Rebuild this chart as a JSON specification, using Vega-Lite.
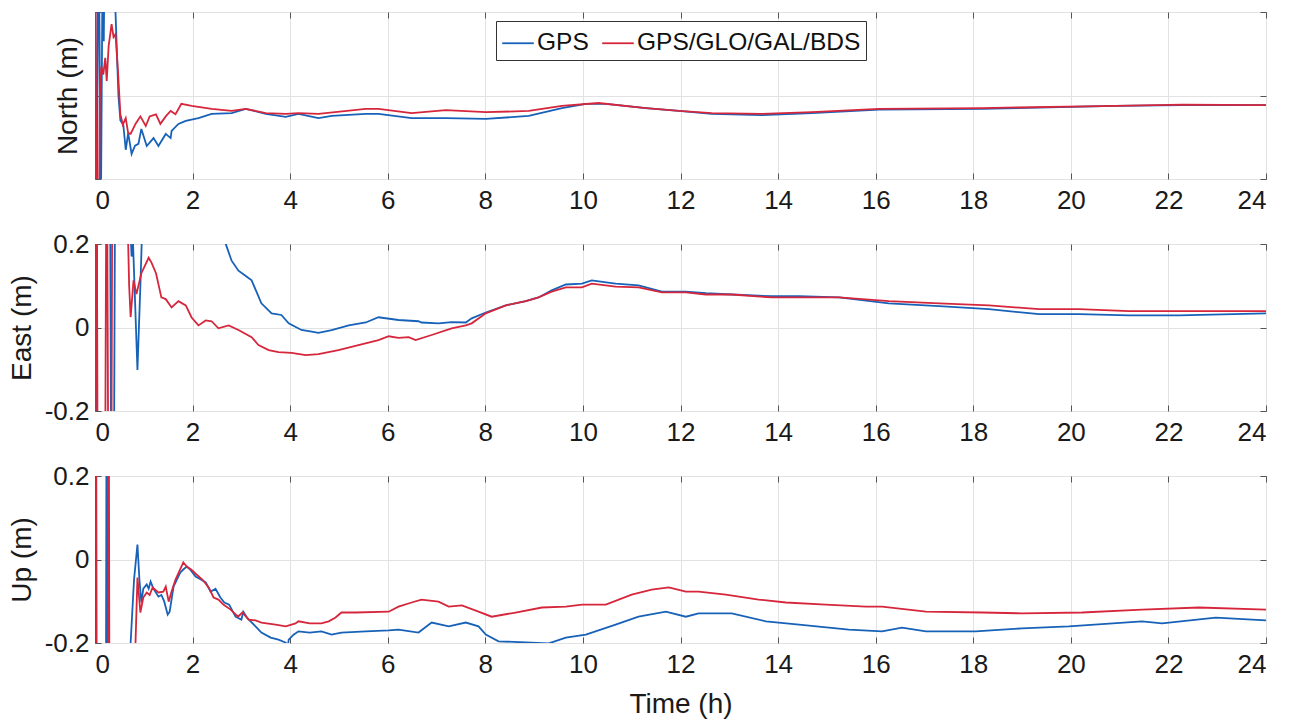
{
  "$schema": "https://vega.github.io/schema/vega-lite/v6.json",
  "padding": {"left": 7, "top": 11, "right": 10, "bottom": 5},
  "background": "white",
  "config": {
    "font": "Liberation Sans",
    "view": {"stroke": "#555555", "strokeWidth": 1},
    "axis": {
      "grid": true, "gridColor": "#e2e2e2", "gridWidth": 1,
      "domain": false, "ticks": true, "tickColor": "#555555", "tickSize": -6, "tickWidth": 1,
      "labelFontSize": 26, "labelColor": "#1a1a1a", "labelPadding": 12,
      "titleFontSize": 28, "titleFontWeight": "normal", "titleColor": "#1a1a1a"
    },
    "axisX": {"labelPadding": 14},
    "line": {"strokeWidth": 1.8, "clip": true}
  },
  "datasets": {
    "north": [
      {"s":"GPS","t":0,"v":0.5},{"s":"GPS","t":0.03,"v":-0.5},{"s":"GPS","t":0.07,"v":0.5},{"s":"GPS","t":0.12,"v":-0.3},{"s":"GPS","t":0.16,"v":0.4},{"s":"GPS","t":0.18,"v":0.13},{"s":"GPS","t":0.21,"v":0.5},{"s":"GPS","t":0.35,"v":0.45},{"s":"GPS","t":0.42,"v":0.2},{"s":"GPS","t":0.48,"v":0.0},{"s":"GPS","t":0.52,"v":-0.06},{"s":"GPS","t":0.58,"v":-0.07},{"s":"GPS","t":0.63,"v":-0.13},{"s":"GPS","t":0.68,"v":-0.09},{"s":"GPS","t":0.75,"v":-0.14},{"s":"GPS","t":0.82,"v":-0.12},{"s":"GPS","t":0.89,"v":-0.116},{"s":"GPS","t":0.95,"v":-0.08},{"s":"GPS","t":1.06,"v":-0.121},{"s":"GPS","t":1.2,"v":-0.102},{"s":"GPS","t":1.3,"v":-0.121},{"s":"GPS","t":1.45,"v":-0.092},{"s":"GPS","t":1.55,"v":-0.102},{"s":"GPS","t":1.57,"v":-0.085},{"s":"GPS","t":1.71,"v":-0.068},{"s":"GPS","t":1.86,"v":-0.061},{"s":"GPS","t":2.12,"v":-0.054},{"s":"GPS","t":2.39,"v":-0.044},{"s":"GPS","t":2.8,"v":-0.042},{"s":"GPS","t":3.09,"v":-0.032},{"s":"GPS","t":3.5,"v":-0.044},{"s":"GPS","t":3.91,"v":-0.051},{"s":"GPS","t":4.17,"v":-0.044},{"s":"GPS","t":4.58,"v":-0.054},{"s":"GPS","t":4.85,"v":-0.049},{"s":"GPS","t":5.55,"v":-0.044},{"s":"GPS","t":5.81,"v":-0.044},{"s":"GPS","t":6.49,"v":-0.054},{"s":"GPS","t":7.19,"v":-0.054},{"s":"GPS","t":8.01,"v":-0.056},{"s":"GPS","t":8.89,"v":-0.049},{"s":"GPS","t":9.57,"v":-0.03},{"s":"GPS","t":10.06,"v":-0.02},{"s":"GPS","t":10.47,"v":-0.02},{"s":"GPS","t":11.29,"v":-0.03},{"s":"GPS","t":11.97,"v":-0.037},{"s":"GPS","t":12.64,"v":-0.044},{"s":"GPS","t":13.67,"v":-0.047},{"s":"GPS","t":14.69,"v":-0.042},{"s":"GPS","t":16.07,"v":-0.034},{"s":"GPS","t":18.18,"v":-0.032},{"s":"GPS","t":20.92,"v":-0.025},{"s":"GPS","t":22.28,"v":-0.023},{"s":"GPS","t":24,"v":-0.023},
      {"s":"GPS/GLO/GAL/BDS","t":0.0,"v":0.5},{"s":"GPS/GLO/GAL/BDS","t":0.04,"v":-0.5},{"s":"GPS/GLO/GAL/BDS","t":0.08,"v":-0.3},{"s":"GPS/GLO/GAL/BDS","t":0.1,"v":0.0},{"s":"GPS/GLO/GAL/BDS","t":0.13,"v":0.07},{"s":"GPS/GLO/GAL/BDS","t":0.17,"v":0.05},{"s":"GPS/GLO/GAL/BDS","t":0.21,"v":0.09},{"s":"GPS/GLO/GAL/BDS","t":0.24,"v":0.035},{"s":"GPS/GLO/GAL/BDS","t":0.28,"v":0.119},{"s":"GPS/GLO/GAL/BDS","t":0.34,"v":0.171},{"s":"GPS/GLO/GAL/BDS","t":0.38,"v":0.14},{"s":"GPS/GLO/GAL/BDS","t":0.42,"v":0.147},{"s":"GPS/GLO/GAL/BDS","t":0.47,"v":0.06},{"s":"GPS/GLO/GAL/BDS","t":0.52,"v":-0.045},{"s":"GPS/GLO/GAL/BDS","t":0.57,"v":-0.07},{"s":"GPS/GLO/GAL/BDS","t":0.63,"v":-0.054},{"s":"GPS/GLO/GAL/BDS","t":0.68,"v":-0.09},{"s":"GPS/GLO/GAL/BDS","t":0.73,"v":-0.092},{"s":"GPS/GLO/GAL/BDS","t":0.83,"v":-0.068},{"s":"GPS/GLO/GAL/BDS","t":0.93,"v":-0.05},{"s":"GPS/GLO/GAL/BDS","t":1.04,"v":-0.073},{"s":"GPS/GLO/GAL/BDS","t":1.12,"v":-0.05},{"s":"GPS/GLO/GAL/BDS","t":1.25,"v":-0.045},{"s":"GPS/GLO/GAL/BDS","t":1.34,"v":-0.068},{"s":"GPS/GLO/GAL/BDS","t":1.45,"v":-0.05},{"s":"GPS/GLO/GAL/BDS","t":1.55,"v":-0.037},{"s":"GPS/GLO/GAL/BDS","t":1.65,"v":-0.045},{"s":"GPS/GLO/GAL/BDS","t":1.77,"v":-0.02},{"s":"GPS/GLO/GAL/BDS","t":1.98,"v":-0.025},{"s":"GPS/GLO/GAL/BDS","t":2.39,"v":-0.032},{"s":"GPS/GLO/GAL/BDS","t":2.8,"v":-0.037},{"s":"GPS/GLO/GAL/BDS","t":3.09,"v":-0.032},{"s":"GPS/GLO/GAL/BDS","t":3.5,"v":-0.042},{"s":"GPS/GLO/GAL/BDS","t":3.91,"v":-0.044},{"s":"GPS/GLO/GAL/BDS","t":4.17,"v":-0.042},{"s":"GPS/GLO/GAL/BDS","t":4.58,"v":-0.044},{"s":"GPS/GLO/GAL/BDS","t":5.55,"v":-0.032},{"s":"GPS/GLO/GAL/BDS","t":5.81,"v":-0.032},{"s":"GPS/GLO/GAL/BDS","t":6.49,"v":-0.042},{"s":"GPS/GLO/GAL/BDS","t":7.19,"v":-0.035},{"s":"GPS/GLO/GAL/BDS","t":8.01,"v":-0.04},{"s":"GPS/GLO/GAL/BDS","t":8.89,"v":-0.037},{"s":"GPS/GLO/GAL/BDS","t":9.57,"v":-0.025},{"s":"GPS/GLO/GAL/BDS","t":10.32,"v":-0.018},{"s":"GPS/GLO/GAL/BDS","t":11.29,"v":-0.03},{"s":"GPS/GLO/GAL/BDS","t":11.97,"v":-0.037},{"s":"GPS/GLO/GAL/BDS","t":12.64,"v":-0.042},{"s":"GPS/GLO/GAL/BDS","t":13.67,"v":-0.044},{"s":"GPS/GLO/GAL/BDS","t":14.69,"v":-0.04},{"s":"GPS/GLO/GAL/BDS","t":16.07,"v":-0.032},{"s":"GPS/GLO/GAL/BDS","t":18.18,"v":-0.03},{"s":"GPS/GLO/GAL/BDS","t":20.92,"v":-0.025},{"s":"GPS/GLO/GAL/BDS","t":22.28,"v":-0.022},{"s":"GPS/GLO/GAL/BDS","t":24,"v":-0.023}
    ],
    "east": [
      {"s":"GPS","t":0.0,"v":0.6},{"s":"GPS","t":0.02,"v":-0.6},{"s":"GPS","t":0.05,"v":0.6},{"s":"GPS","t":0.3,"v":0.6},{"s":"GPS","t":0.34,"v":-0.6},{"s":"GPS","t":0.38,"v":-0.6},{"s":"GPS","t":0.42,"v":0.6},{"s":"GPS","t":0.7,"v":0.6},{"s":"GPS","t":0.72,"v":0.25},{"s":"GPS","t":0.75,"v":0.17},{"s":"GPS","t":0.78,"v":0.2},{"s":"GPS","t":0.87,"v":-0.102},{"s":"GPS","t":0.93,"v":0.1},{"s":"GPS","t":0.97,"v":0.25},{"s":"GPS","t":1.0,"v":0.6},{"s":"GPS","t":2.6,"v":0.6},{"s":"GPS","t":2.68,"v":0.2},{"s":"GPS","t":2.8,"v":0.16},{"s":"GPS","t":2.94,"v":0.136},{"s":"GPS","t":3.07,"v":0.125},{"s":"GPS","t":3.21,"v":0.113},{"s":"GPS","t":3.41,"v":0.058},{"s":"GPS","t":3.62,"v":0.034},{"s":"GPS","t":3.82,"v":0.03},{"s":"GPS","t":3.97,"v":0.01},{"s":"GPS","t":4.23,"v":-0.006},{"s":"GPS","t":4.44,"v":-0.01},{"s":"GPS","t":4.58,"v":-0.013},{"s":"GPS","t":4.85,"v":-0.006},{"s":"GPS","t":5.2,"v":0.005},{"s":"GPS","t":5.55,"v":0.012},{"s":"GPS","t":5.81,"v":0.0245},{"s":"GPS","t":6.22,"v":0.018},{"s":"GPS","t":6.63,"v":0.015},{"s":"GPS","t":6.69,"v":0.012},{"s":"GPS","t":7.04,"v":0.01},{"s":"GPS","t":7.31,"v":0.013},{"s":"GPS","t":7.6,"v":0.012},{"s":"GPS","t":7.72,"v":0.022},{"s":"GPS","t":8.01,"v":0.036},{"s":"GPS","t":8.42,"v":0.053},{"s":"GPS","t":8.83,"v":0.063},{"s":"GPS","t":9.09,"v":0.072},{"s":"GPS","t":9.36,"v":0.089},{"s":"GPS","t":9.65,"v":0.103},{"s":"GPS","t":9.98,"v":0.105},{"s":"GPS","t":10.18,"v":0.113},{"s":"GPS","t":10.67,"v":0.105},{"s":"GPS","t":11.14,"v":0.101},{"s":"GPS","t":11.62,"v":0.086},{"s":"GPS","t":12.11,"v":0.086},{"s":"GPS","t":12.52,"v":0.082},{"s":"GPS","t":13.05,"v":0.079},{"s":"GPS","t":13.87,"v":0.075},{"s":"GPS","t":14.43,"v":0.075},{"s":"GPS","t":15.25,"v":0.072},{"s":"GPS","t":16.27,"v":0.058},{"s":"GPS","t":17.3,"v":0.051},{"s":"GPS","t":18.32,"v":0.044},{"s":"GPS","t":19.35,"v":0.032},{"s":"GPS","t":20.17,"v":0.032},{"s":"GPS","t":21.19,"v":0.029},{"s":"GPS","t":22.22,"v":0.029},{"s":"GPS","t":24,"v":0.034},
      {"s":"GPS/GLO/GAL/BDS","t":0.0,"v":-0.6},{"s":"GPS/GLO/GAL/BDS","t":0.03,"v":0.6},{"s":"GPS/GLO/GAL/BDS","t":0.06,"v":-0.6},{"s":"GPS/GLO/GAL/BDS","t":0.2,"v":-0.6},{"s":"GPS/GLO/GAL/BDS","t":0.24,"v":0.6},{"s":"GPS/GLO/GAL/BDS","t":0.28,"v":-0.6},{"s":"GPS/GLO/GAL/BDS","t":0.33,"v":-0.6},{"s":"GPS/GLO/GAL/BDS","t":0.36,"v":0.6},{"s":"GPS/GLO/GAL/BDS","t":0.6,"v":0.6},{"s":"GPS/GLO/GAL/BDS","t":0.7,"v":0.1},{"s":"GPS/GLO/GAL/BDS","t":0.73,"v":0.025},{"s":"GPS/GLO/GAL/BDS","t":0.79,"v":0.113},{"s":"GPS/GLO/GAL/BDS","t":0.85,"v":0.08},{"s":"GPS/GLO/GAL/BDS","t":0.95,"v":0.13},{"s":"GPS/GLO/GAL/BDS","t":1.1,"v":0.167},{"s":"GPS/GLO/GAL/BDS","t":1.16,"v":0.155},{"s":"GPS/GLO/GAL/BDS","t":1.25,"v":0.13},{"s":"GPS/GLO/GAL/BDS","t":1.36,"v":0.072},{"s":"GPS/GLO/GAL/BDS","t":1.45,"v":0.068},{"s":"GPS/GLO/GAL/BDS","t":1.57,"v":0.048},{"s":"GPS/GLO/GAL/BDS","t":1.71,"v":0.063},{"s":"GPS/GLO/GAL/BDS","t":1.86,"v":0.053},{"s":"GPS/GLO/GAL/BDS","t":1.98,"v":0.024},{"s":"GPS/GLO/GAL/BDS","t":2.12,"v":0.005},{"s":"GPS/GLO/GAL/BDS","t":2.27,"v":0.017},{"s":"GPS/GLO/GAL/BDS","t":2.39,"v":0.015},{"s":"GPS/GLO/GAL/BDS","t":2.53,"v":-0.002},{"s":"GPS/GLO/GAL/BDS","t":2.74,"v":0.005},{"s":"GPS/GLO/GAL/BDS","t":2.94,"v":-0.006},{"s":"GPS/GLO/GAL/BDS","t":3.21,"v":-0.023},{"s":"GPS/GLO/GAL/BDS","t":3.35,"v":-0.042},{"s":"GPS/GLO/GAL/BDS","t":3.56,"v":-0.054},{"s":"GPS/GLO/GAL/BDS","t":3.76,"v":-0.059},{"s":"GPS/GLO/GAL/BDS","t":4.03,"v":-0.061},{"s":"GPS/GLO/GAL/BDS","t":4.32,"v":-0.066},{"s":"GPS/GLO/GAL/BDS","t":4.58,"v":-0.064},{"s":"GPS/GLO/GAL/BDS","t":4.99,"v":-0.054},{"s":"GPS/GLO/GAL/BDS","t":5.4,"v":-0.042},{"s":"GPS/GLO/GAL/BDS","t":5.81,"v":-0.03},{"s":"GPS/GLO/GAL/BDS","t":6.02,"v":-0.021},{"s":"GPS/GLO/GAL/BDS","t":6.22,"v":-0.025},{"s":"GPS/GLO/GAL/BDS","t":6.43,"v":-0.023},{"s":"GPS/GLO/GAL/BDS","t":6.57,"v":-0.03},{"s":"GPS/GLO/GAL/BDS","t":6.9,"v":-0.018},{"s":"GPS/GLO/GAL/BDS","t":7.31,"v":-0.002},{"s":"GPS/GLO/GAL/BDS","t":7.6,"v":0.005},{"s":"GPS/GLO/GAL/BDS","t":7.72,"v":0.01},{"s":"GPS/GLO/GAL/BDS","t":8.01,"v":0.034},{"s":"GPS/GLO/GAL/BDS","t":8.42,"v":0.053},{"s":"GPS/GLO/GAL/BDS","t":8.83,"v":0.063},{"s":"GPS/GLO/GAL/BDS","t":9.09,"v":0.072},{"s":"GPS/GLO/GAL/BDS","t":9.36,"v":0.086},{"s":"GPS/GLO/GAL/BDS","t":9.65,"v":0.096},{"s":"GPS/GLO/GAL/BDS","t":9.98,"v":0.096},{"s":"GPS/GLO/GAL/BDS","t":10.18,"v":0.105},{"s":"GPS/GLO/GAL/BDS","t":10.67,"v":0.098},{"s":"GPS/GLO/GAL/BDS","t":11.14,"v":0.096},{"s":"GPS/GLO/GAL/BDS","t":11.62,"v":0.084},{"s":"GPS/GLO/GAL/BDS","t":12.11,"v":0.084},{"s":"GPS/GLO/GAL/BDS","t":12.52,"v":0.079},{"s":"GPS/GLO/GAL/BDS","t":13.05,"v":0.079},{"s":"GPS/GLO/GAL/BDS","t":13.87,"v":0.072},{"s":"GPS/GLO/GAL/BDS","t":14.43,"v":0.072},{"s":"GPS/GLO/GAL/BDS","t":15.25,"v":0.072},{"s":"GPS/GLO/GAL/BDS","t":16.27,"v":0.063},{"s":"GPS/GLO/GAL/BDS","t":17.3,"v":0.058},{"s":"GPS/GLO/GAL/BDS","t":18.32,"v":0.053},{"s":"GPS/GLO/GAL/BDS","t":19.35,"v":0.044},{"s":"GPS/GLO/GAL/BDS","t":20.17,"v":0.044},{"s":"GPS/GLO/GAL/BDS","t":21.19,"v":0.039},{"s":"GPS/GLO/GAL/BDS","t":22.22,"v":0.039},{"s":"GPS/GLO/GAL/BDS","t":24,"v":0.039}
    ],
    "up": [
      {"s":"GPS","t":0.0,"v":0.6},{"s":"GPS","t":0.01,"v":-0.6},{"s":"GPS","t":0.22,"v":-0.6},{"s":"GPS","t":0.24,"v":0.6},{"s":"GPS","t":0.26,"v":-0.6},{"s":"GPS","t":0.68,"v":-0.6},{"s":"GPS","t":0.73,"v":-0.2},{"s":"GPS","t":0.8,"v":-0.048},{"s":"GPS","t":0.87,"v":0.036},{"s":"GPS","t":0.91,"v":-0.048},{"s":"GPS","t":0.95,"v":-0.103},{"s":"GPS","t":0.99,"v":-0.07},{"s":"GPS","t":1.06,"v":-0.06},{"s":"GPS","t":1.1,"v":-0.07},{"s":"GPS","t":1.14,"v":-0.053},{"s":"GPS","t":1.2,"v":-0.07},{"s":"GPS","t":1.3,"v":-0.089},{"s":"GPS","t":1.36,"v":-0.085},{"s":"GPS","t":1.42,"v":-0.101},{"s":"GPS","t":1.49,"v":-0.132},{"s":"GPS","t":1.53,"v":-0.125},{"s":"GPS","t":1.61,"v":-0.065},{"s":"GPS","t":1.67,"v":-0.05},{"s":"GPS","t":1.75,"v":-0.031},{"s":"GPS","t":1.81,"v":-0.024},{"s":"GPS","t":1.88,"v":-0.017},{"s":"GPS","t":1.95,"v":-0.024},{"s":"GPS","t":2.06,"v":-0.041},{"s":"GPS","t":2.17,"v":-0.048},{"s":"GPS","t":2.27,"v":-0.055},{"s":"GPS","t":2.37,"v":-0.077},{"s":"GPS","t":2.47,"v":-0.07},{"s":"GPS","t":2.57,"v":-0.091},{"s":"GPS","t":2.65,"v":-0.103},{"s":"GPS","t":2.75,"v":-0.108},{"s":"GPS","t":2.88,"v":-0.137},{"s":"GPS","t":3.0,"v":-0.144},{"s":"GPS","t":3.04,"v":-0.125},{"s":"GPS","t":3.12,"v":-0.14},{"s":"GPS","t":3.29,"v":-0.16},{"s":"GPS","t":3.41,"v":-0.175},{"s":"GPS","t":3.6,"v":-0.187},{"s":"GPS","t":3.76,"v":-0.192},{"s":"GPS","t":3.91,"v":-0.199},{"s":"GPS","t":3.95,"v":-0.21},{"s":"GPS","t":3.97,"v":-0.192},{"s":"GPS","t":4.07,"v":-0.18},{"s":"GPS","t":4.17,"v":-0.172},{"s":"GPS","t":4.4,"v":-0.175},{"s":"GPS","t":4.64,"v":-0.172},{"s":"GPS","t":4.85,"v":-0.18},{"s":"GPS","t":5.05,"v":-0.175},{"s":"GPS","t":5.55,"v":-0.172},{"s":"GPS","t":6.02,"v":-0.17},{"s":"GPS","t":6.22,"v":-0.168},{"s":"GPS","t":6.63,"v":-0.175},{"s":"GPS","t":6.9,"v":-0.151},{"s":"GPS","t":7.25,"v":-0.16},{"s":"GPS","t":7.6,"v":-0.151},{"s":"GPS","t":7.86,"v":-0.16},{"s":"GPS","t":8.01,"v":-0.18},{"s":"GPS","t":8.27,"v":-0.196},{"s":"GPS","t":8.95,"v":-0.199},{"s":"GPS","t":9.3,"v":-0.201},{"s":"GPS","t":9.65,"v":-0.187},{"s":"GPS","t":10.06,"v":-0.18},{"s":"GPS","t":10.67,"v":-0.156},{"s":"GPS","t":11.14,"v":-0.137},{"s":"GPS","t":11.7,"v":-0.125},{"s":"GPS","t":12.11,"v":-0.137},{"s":"GPS","t":12.37,"v":-0.129},{"s":"GPS","t":13.05,"v":-0.129},{"s":"GPS","t":13.75,"v":-0.148},{"s":"GPS","t":14.43,"v":-0.156},{"s":"GPS","t":15.45,"v":-0.168},{"s":"GPS","t":16.13,"v":-0.172},{"s":"GPS","t":16.54,"v":-0.163},{"s":"GPS","t":17.03,"v":-0.172},{"s":"GPS","t":18.05,"v":-0.172},{"s":"GPS","t":19.0,"v":-0.165},{"s":"GPS","t":19.96,"v":-0.16},{"s":"GPS","t":21.46,"v":-0.148},{"s":"GPS","t":21.87,"v":-0.153},{"s":"GPS","t":22.97,"v":-0.139},{"s":"GPS","t":24,"v":-0.146},
      {"s":"GPS/GLO/GAL/BDS","t":0.02,"v":0.6},{"s":"GPS/GLO/GAL/BDS","t":0.04,"v":-0.6},{"s":"GPS/GLO/GAL/BDS","t":0.26,"v":-0.6},{"s":"GPS/GLO/GAL/BDS","t":0.28,"v":0.6},{"s":"GPS/GLO/GAL/BDS","t":0.3,"v":-0.6},{"s":"GPS/GLO/GAL/BDS","t":0.8,"v":-0.6},{"s":"GPS/GLO/GAL/BDS","t":0.83,"v":-0.2},{"s":"GPS/GLO/GAL/BDS","t":0.87,"v":-0.043},{"s":"GPS/GLO/GAL/BDS","t":0.93,"v":-0.127},{"s":"GPS/GLO/GAL/BDS","t":0.99,"v":-0.091},{"s":"GPS/GLO/GAL/BDS","t":1.06,"v":-0.079},{"s":"GPS/GLO/GAL/BDS","t":1.12,"v":-0.085},{"s":"GPS/GLO/GAL/BDS","t":1.18,"v":-0.067},{"s":"GPS/GLO/GAL/BDS","t":1.3,"v":-0.079},{"s":"GPS/GLO/GAL/BDS","t":1.4,"v":-0.077},{"s":"GPS/GLO/GAL/BDS","t":1.45,"v":-0.065},{"s":"GPS/GLO/GAL/BDS","t":1.51,"v":-0.101},{"s":"GPS/GLO/GAL/BDS","t":1.56,"v":-0.08},{"s":"GPS/GLO/GAL/BDS","t":1.65,"v":-0.048},{"s":"GPS/GLO/GAL/BDS","t":1.72,"v":-0.03},{"s":"GPS/GLO/GAL/BDS","t":1.81,"v":-0.007},{"s":"GPS/GLO/GAL/BDS","t":1.88,"v":-0.017},{"s":"GPS/GLO/GAL/BDS","t":1.97,"v":-0.024},{"s":"GPS/GLO/GAL/BDS","t":2.08,"v":-0.036},{"s":"GPS/GLO/GAL/BDS","t":2.2,"v":-0.048},{"s":"GPS/GLO/GAL/BDS","t":2.33,"v":-0.067},{"s":"GPS/GLO/GAL/BDS","t":2.43,"v":-0.091},{"s":"GPS/GLO/GAL/BDS","t":2.53,"v":-0.096},{"s":"GPS/GLO/GAL/BDS","t":2.63,"v":-0.108},{"s":"GPS/GLO/GAL/BDS","t":2.78,"v":-0.12},{"s":"GPS/GLO/GAL/BDS","t":2.93,"v":-0.137},{"s":"GPS/GLO/GAL/BDS","t":3.02,"v":-0.127},{"s":"GPS/GLO/GAL/BDS","t":3.15,"v":-0.144},{"s":"GPS/GLO/GAL/BDS","t":3.29,"v":-0.146},{"s":"GPS/GLO/GAL/BDS","t":3.41,"v":-0.151},{"s":"GPS/GLO/GAL/BDS","t":3.7,"v":-0.156},{"s":"GPS/GLO/GAL/BDS","t":3.91,"v":-0.16},{"s":"GPS/GLO/GAL/BDS","t":4.11,"v":-0.153},{"s":"GPS/GLO/GAL/BDS","t":4.17,"v":-0.148},{"s":"GPS/GLO/GAL/BDS","t":4.4,"v":-0.153},{"s":"GPS/GLO/GAL/BDS","t":4.64,"v":-0.153},{"s":"GPS/GLO/GAL/BDS","t":4.79,"v":-0.148},{"s":"GPS/GLO/GAL/BDS","t":4.93,"v":-0.139},{"s":"GPS/GLO/GAL/BDS","t":5.05,"v":-0.127},{"s":"GPS/GLO/GAL/BDS","t":5.34,"v":-0.127},{"s":"GPS/GLO/GAL/BDS","t":6.02,"v":-0.125},{"s":"GPS/GLO/GAL/BDS","t":6.22,"v":-0.113},{"s":"GPS/GLO/GAL/BDS","t":6.49,"v":-0.103},{"s":"GPS/GLO/GAL/BDS","t":6.69,"v":-0.096},{"s":"GPS/GLO/GAL/BDS","t":7.04,"v":-0.101},{"s":"GPS/GLO/GAL/BDS","t":7.25,"v":-0.113},{"s":"GPS/GLO/GAL/BDS","t":7.52,"v":-0.11},{"s":"GPS/GLO/GAL/BDS","t":7.86,"v":-0.125},{"s":"GPS/GLO/GAL/BDS","t":8.13,"v":-0.137},{"s":"GPS/GLO/GAL/BDS","t":8.62,"v":-0.127},{"s":"GPS/GLO/GAL/BDS","t":9.16,"v":-0.115},{"s":"GPS/GLO/GAL/BDS","t":9.65,"v":-0.113},{"s":"GPS/GLO/GAL/BDS","t":9.98,"v":-0.108},{"s":"GPS/GLO/GAL/BDS","t":10.47,"v":-0.108},{"s":"GPS/GLO/GAL/BDS","t":11.0,"v":-0.084},{"s":"GPS/GLO/GAL/BDS","t":11.41,"v":-0.072},{"s":"GPS/GLO/GAL/BDS","t":11.76,"v":-0.067},{"s":"GPS/GLO/GAL/BDS","t":12.11,"v":-0.077},{"s":"GPS/GLO/GAL/BDS","t":12.37,"v":-0.077},{"s":"GPS/GLO/GAL/BDS","t":12.93,"v":-0.084},{"s":"GPS/GLO/GAL/BDS","t":13.6,"v":-0.096},{"s":"GPS/GLO/GAL/BDS","t":14.16,"v":-0.103},{"s":"GPS/GLO/GAL/BDS","t":14.98,"v":-0.108},{"s":"GPS/GLO/GAL/BDS","t":15.8,"v":-0.113},{"s":"GPS/GLO/GAL/BDS","t":16.13,"v":-0.113},{"s":"GPS/GLO/GAL/BDS","t":17.03,"v":-0.125},{"s":"GPS/GLO/GAL/BDS","t":18.18,"v":-0.127},{"s":"GPS/GLO/GAL/BDS","t":19.0,"v":-0.129},{"s":"GPS/GLO/GAL/BDS","t":20.23,"v":-0.127},{"s":"GPS/GLO/GAL/BDS","t":21.46,"v":-0.12},{"s":"GPS/GLO/GAL/BDS","t":22.63,"v":-0.115},{"s":"GPS/GLO/GAL/BDS","t":24,"v":-0.12}
    ]
  },
  "spacing": 65,
  "bounds": "flush",
  "resolve": {"legend": {"color": "independent"}},
  "vconcat": [
    {
      "width": 1171, "height": 167,
      "data": {"name": "north"},
      "layer": [
        {
          "mark": {"type": "line", "clip": true},
          "encoding": {
            "x": {"field": "t", "type": "quantitative", "scale": {"domain": [0, 24], "nice": false, "zero": false}, "axis": {"values": [0,2,4,6,8,10,12,14,16,18,20,22,24], "title": null}},
            "y": {"field": "v", "type": "quantitative", "scale": {"domain": [-0.2, 0.2], "nice": false, "zero": false}, "axis": {"values": [-0.2, 0, 0.2], "labels": false, "title": "North (m)", "titlePadding": 12}},
            "color": {"field": "s", "type": "nominal", "scale": {"domain": ["GPS", "GPS/GLO/GAL/BDS"], "range": ["#1762b8", "#d6263c"]},
              "legend": {"title": null, "orient": "none", "legendX": 401, "legendY": 9, "direction": "horizontal", "symbolType": "stroke", "symbolSize": 1000, "symbolStrokeWidth": 1.8, "labelFontSize": 24.5, "labelLimit": 500, "labelColor": "#111111", "labelOffset": 2, "columnPadding": 9, "padding": 5, "fillColor": "white", "strokeColor": "#333333", "cornerRadius": 0}}
          }
        },
        {
          "mark": {"type": "line", "opacity": 0, "clip": true},
          "encoding": {
            "x": {"field": "t", "type": "quantitative", "scale": {"domain": [0, 24], "nice": false, "zero": false}, "axis": {"orient": "top", "values": [0,2,4,6,8,10,12,14,16,18,20,22,24], "labels": false, "grid": false, "title": null}},
            "y": {"field": "v", "type": "quantitative", "scale": {"domain": [-0.2, 0.2], "nice": false, "zero": false}, "axis": {"orient": "right", "values": [-0.2, 0, 0.2], "labels": false, "grid": false, "title": null}},
            "detail": {"field": "s"}
          }
        }
      ],
      "resolve": {"scale": {"x": "independent", "y": "independent"}}
    },
    {
      "width": 1171, "height": 167,
      "data": {"name": "east"},
      "layer": [
        {
          "mark": {"type": "line", "clip": true},
          "encoding": {
            "x": {"field": "t", "type": "quantitative", "scale": {"domain": [0, 24], "nice": false, "zero": false}, "axis": {"values": [0,2,4,6,8,10,12,14,16,18,20,22,24], "title": null}},
            "y": {"field": "v", "type": "quantitative", "scale": {"domain": [-0.2, 0.2], "nice": false, "zero": false}, "axis": {"values": [-0.2, 0, 0.2], "title": "East (m)", "titlePadding": 8, "labelExpr": "datum.value < 0 ? '-' + format(-datum.value, '~g') : format(datum.value, '~g')"}},
            "color": {"field": "s", "type": "nominal", "scale": {"domain": ["GPS", "GPS/GLO/GAL/BDS"], "range": ["#1762b8", "#d6263c"]}, "legend": null}
          }
        },
        {
          "mark": {"type": "line", "opacity": 0, "clip": true},
          "encoding": {
            "x": {"field": "t", "type": "quantitative", "scale": {"domain": [0, 24], "nice": false, "zero": false}, "axis": {"orient": "top", "values": [0,2,4,6,8,10,12,14,16,18,20,22,24], "labels": false, "grid": false, "title": null}},
            "y": {"field": "v", "type": "quantitative", "scale": {"domain": [-0.2, 0.2], "nice": false, "zero": false}, "axis": {"orient": "right", "values": [-0.2, 0, 0.2], "labels": false, "grid": false, "title": null}},
            "detail": {"field": "s"}
          }
        }
      ],
      "resolve": {"scale": {"x": "independent", "y": "independent"}}
    },
    {
      "width": 1171, "height": 167,
      "data": {"name": "up"},
      "layer": [
        {
          "mark": {"type": "line", "clip": true},
          "encoding": {
            "x": {"field": "t", "type": "quantitative", "scale": {"domain": [0, 24], "nice": false, "zero": false}, "axis": {"values": [0,2,4,6,8,10,12,14,16,18,20,22,24], "title": "Time (h)", "titlePadding": 13}},
            "y": {"field": "v", "type": "quantitative", "scale": {"domain": [-0.2, 0.2], "nice": false, "zero": false}, "axis": {"values": [-0.2, 0, 0.2], "title": "Up (m)", "titlePadding": 8, "labelExpr": "datum.value < 0 ? '-' + format(-datum.value, '~g') : format(datum.value, '~g')"}},
            "color": {"field": "s", "type": "nominal", "scale": {"domain": ["GPS", "GPS/GLO/GAL/BDS"], "range": ["#1762b8", "#d6263c"]}, "legend": null}
          }
        },
        {
          "mark": {"type": "line", "opacity": 0, "clip": true},
          "encoding": {
            "x": {"field": "t", "type": "quantitative", "scale": {"domain": [0, 24], "nice": false, "zero": false}, "axis": {"orient": "top", "values": [0,2,4,6,8,10,12,14,16,18,20,22,24], "labels": false, "grid": false, "title": null}},
            "y": {"field": "v", "type": "quantitative", "scale": {"domain": [-0.2, 0.2], "nice": false, "zero": false}, "axis": {"orient": "right", "values": [-0.2, 0, 0.2], "labels": false, "grid": false, "title": null}},
            "detail": {"field": "s"}
          }
        }
      ],
      "resolve": {"scale": {"x": "independent", "y": "independent"}}
    }
  ]
}
